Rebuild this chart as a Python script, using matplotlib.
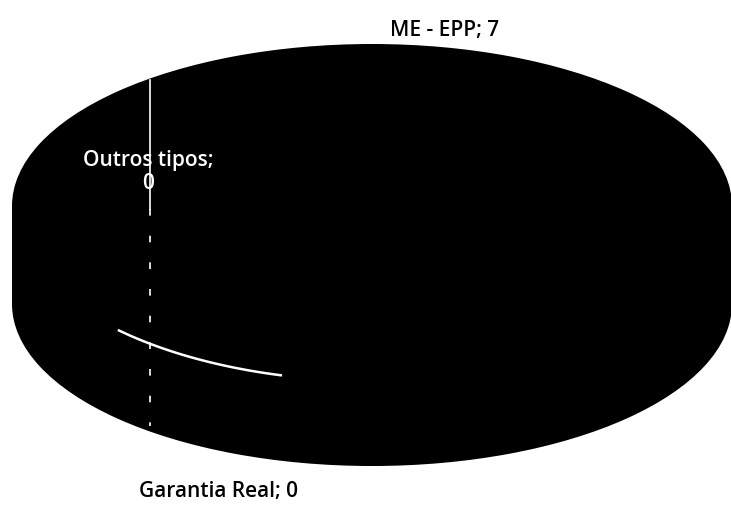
import matplotlib
matplotlib.use("Agg")
import matplotlib.pyplot as plt
import numpy as np

# Data
categories = ["ME - EPP", "Garantia Real", "Outros tipos"]
values = [7, 0, 0]
label_texts = ["ME - EPP; 7", "Garantia Real; 0", "Outros tipos;\n0"]

plt.rcParams['font.family'] = ['Open Sans', 'DejaVu Sans']

W, H = 731, 506
fig = plt.figure(figsize=(W / 100, H / 100), dpi=100)
ax = fig.add_axes([0, 0, 1, 1])

# pixel geometry -> data coords (1 unit x = 360 px, 1 unit y = 162 px)
cx_px, cy_px, ax_px, by_px = 372, 207, 360, 162

depth = 0.605
# bottom face
ax.pie(values, colors=['black'] * len(values), center=(0, -depth), radius=1,
       startangle=90, wedgeprops=dict(linewidth=0), normalize=True, frame=True)
# side band
ax.fill_between([-1, 1], [-depth, -depth], [0, 0], color='black', lw=0)
# top face
ax.pie(values, colors=['black'] * len(values), center=(0, 0), radius=1,
       startangle=90, wedgeprops=dict(linewidth=0), normalize=True, frame=True)
ax.set_aspect('auto')
ax.set_xlim((0 - cx_px) / ax_px, (W - cx_px) / ax_px)
ax.set_ylim(-(H - cy_px) / by_px, cy_px / by_px)
ax.axis('off')

# slice boundary artefacts (white)
xs = np.linspace(-0.706, -0.25, 60)
ax.plot(xs, -1.08 * np.sqrt(1 - xs ** 2), color='white', lw=1.8, solid_capstyle='butt')
xv = -0.617
ytop = np.sqrt(1 - xv ** 2) * 0.985
ax.plot([xv, xv], [ytop, -0.02], color='white', lw=1.2)
ax.plot([xv, xv], [-0.02, -depth - np.sqrt(1 - xv ** 2) * 0.96], color='white', lw=1.2,
        linestyle=(0, (4, 12)))

# labels
def px(x, y):
    return (x - cx_px) / ax_px, -(y - cy_px) / by_px

ax.text(*px(445, 31), label_texts[0], ha='center', va='center', fontsize=15,
        fontweight='semibold', color='black')
ax.text(*px(219, 492), label_texts[1], ha='center', va='center', fontsize=15,
        fontweight='semibold', color='black')
ax.text(*px(148, 172), label_texts[2], ha='center', va='center', fontsize=15,
        fontweight='semibold', color='white', linespacing=1.1)

fig.savefig("out.png", dpi=100, facecolor='white')
